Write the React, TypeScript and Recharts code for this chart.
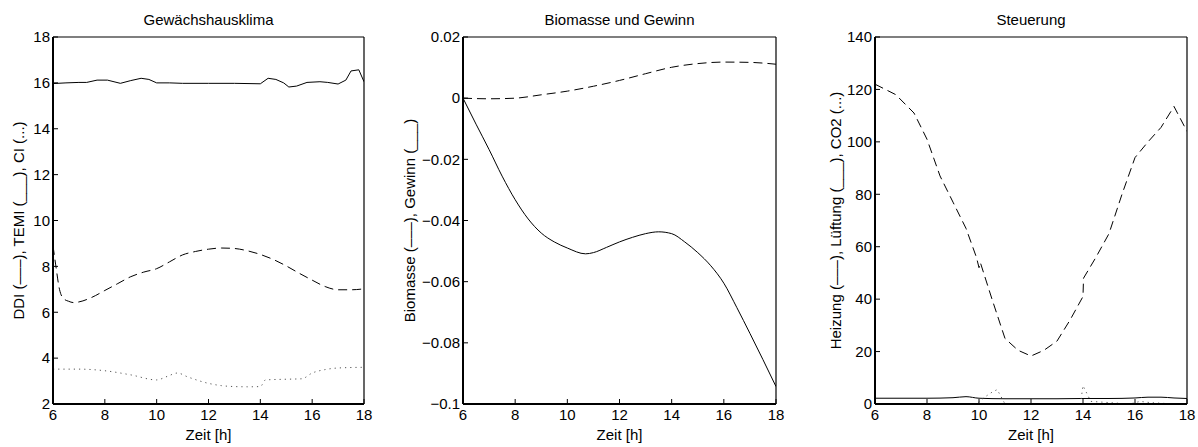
import React from "react";
import { LineChart, Line, XAxis, YAxis } from "recharts";

// shared x axis (hours)
const hourTicks = [6, 8, 10, 12, 14, 16, 18];

// Panel 1: Gewächshausklima
const temiT = [6, 6.5, 7, 7.3, 7.7, 8.1, 8.6, 9.0, 9.4, 9.7, 10, 10.5, 11, 12, 13, 14, 14.3, 14.6, 14.9, 15.1, 15.4, 15.8, 16.3, 16.6, 17, 17.3, 17.5, 17.8, 18];
const temiV = [15.97, 16.0, 16.02, 16.02, 16.12, 16.12, 15.98, 16.1, 16.2, 16.15, 16.0, 16.0, 15.98, 15.98, 15.98, 15.96, 16.2, 16.15, 16.0, 15.82, 15.86, 16.02, 16.05, 16.02, 15.95, 16.12, 16.52, 16.57, 16.05];
const ddiT = [6, 6.1, 6.25, 6.4, 6.6, 6.8, 7, 7.5, 8, 8.5, 9, 9.5, 10, 10.5, 11, 11.5, 12, 12.5, 13, 13.5, 14, 14.5, 15, 15.5, 16, 16.5, 17, 17.5, 18];
const ddiV = [8.9, 8.1, 7.0, 6.6, 6.48, 6.42, 6.45, 6.65, 6.95, 7.25, 7.55, 7.75, 7.9, 8.2, 8.5, 8.65, 8.75, 8.8, 8.78, 8.68, 8.52, 8.3, 8.02, 7.7, 7.4, 7.12, 6.98, 6.98, 7.02];
const ciT = [6, 7, 8, 9, 10, 10.4, 10.8, 11.2, 12, 12.5, 13, 13.5, 14, 14.2, 15, 15.6, 16, 16.5, 17, 18];
const ciV = [3.52, 3.52, 3.45, 3.27, 3.05, 3.2, 3.35, 3.18, 2.9, 2.8, 2.76, 2.75, 2.76, 3.05, 3.08, 3.1, 3.35, 3.5, 3.57, 3.6];
const climaTicks = [2, 4, 6, 8, 10, 12, 14, 16, 18];

// Panel 2: Biomasse und Gewinn
const gewinnT = [6, 6.5, 7, 7.5, 8, 8.5, 9, 9.5, 10, 10.7, 11, 11.5, 12, 12.5, 13, 13.5, 14, 14.5, 15, 15.5, 16, 16.5, 17, 17.5, 18];
const gewinnV = [0, -0.0085, -0.0168, -0.0255, -0.0332, -0.0395, -0.0441, -0.047, -0.049, -0.0509, -0.0505, -0.0488, -0.047, -0.0455, -0.0443, -0.0437, -0.0443, -0.047, -0.0505, -0.0548, -0.0605, -0.0685, -0.0769, -0.0855, -0.0943];
const biomasseT = [6, 7, 8, 9, 10, 11, 12, 13, 14, 15, 16, 17, 18];
const biomasseV = [0, -0.0002, 0, 0.0011, 0.0023, 0.0039, 0.0058, 0.008, 0.0101, 0.0113, 0.0118, 0.0117, 0.0111];
const bioTicks = [-0.1, -0.08, -0.06, -0.04, -0.02, 0, 0.02];

// Panel 3: Steuerung
const heizT = [6, 6.8, 7.5, 8, 8.5, 9, 9.5, 9.9, 10, 10.05, 10.5, 11, 11.5, 12, 12.5, 13, 13.5, 14, 14.02, 14.5, 15, 15.5, 16, 16.5, 17, 17.5, 18];
const heizV = [122, 118, 111, 101, 87, 77, 67, 56, 52, 54, 40, 25, 20.5, 18.3, 20.5, 24, 32, 41, 48, 56, 65, 80, 94, 100, 105.5, 113.5, 104];
const lueftT = [6, 8, 9, 9.5, 10, 11, 12, 13, 14, 15, 16, 16.5, 17, 17.5, 18];
const lueftV = [2.2, 2.2, 2.4, 2.8, 2.2, 2.0, 2.0, 2.0, 2.1, 2.1, 2.3, 2.6, 2.6, 2.3, 2.1];
const co2T = [6, 9.9, 10.2, 10.5, 10.7, 11, 13.9, 14, 14.1, 14.3, 15.8, 16.2, 16.6, 17, 17.5, 18];
const co2V = [0, 0, 2.5, 4.5, 5.5, 0, 0, 7, 5, 1, 0, 1, 0.5, 0.3, 0, 0];
const steuerTicks = [0, 20, 40, 60, 80, 100, 120, 140];

const FONT = "'Liberation Sans', Arial, Helvetica, sans-serif";
const H = 447;
const TOP = 37;
const BOTTOM = 43;

const pts = (t: number[], v: number[]) => t.map((x, i) => ({ t: x, v: v[i] }));

type Series = { data: { t: number; v: number }[]; style: "solid" | "dashed" | "dotted"; curve: "linear" | "monotone" };

const styleOf = (s: Series["style"]) =>
  s === "dashed"
    ? { stroke: "#000", strokeDasharray: "9 5" }
    : s === "dotted"
    ? { stroke: "#555", strokeDasharray: "1.2 4" }
    : { stroke: "#000" };

const fmtMinus = (v: number) => (v === 0 ? "0" : (v < 0 ? "\u2212" : "") + String(Math.abs(v)));

function Panel(props: {
  x: number; width: number; left: number; right: number; title: string; yLabel: string;
  yLabelX: number; yDomain: [number, number]; yTicks: number[]; series: Series[]; fmt?: (v: number) => string;
}) {
  const { x, width, left, right, title, yLabel, yLabelX, yDomain, yTicks, series, fmt } = props;
  const plotW = width - left - right;
  const plotH = H - TOP - BOTTOM;
  const cx = left + plotW / 2;
  const cy = TOP + plotH / 2;
  const tickFont = { fontSize: 15, fill: "#000", fontFamily: FONT };
  // axes are 1px thick so that they still render; margins make up the difference
  return (
    <div style={{ position: "absolute", left: x, top: 0 }}>
      <LineChart width={width} height={H} margin={{ top: TOP - 1, right: right - 1, bottom: BOTTOM - 1, left: left - 1 }} style={{ fontFamily: FONT }}>
        <XAxis
          dataKey="t" type="number" domain={[6, 18]} ticks={hourTicks} interval={0} allowDataOverflow
          height={1} tickSize={-5} tickMargin={10} stroke="#000" axisLine={{ stroke: "#000", strokeWidth: 2 }}
          tickLine={{ stroke: "#000" }} tick={tickFont}
          label={() => (
            <text x={cx} y={H - 7} textAnchor="middle" fontSize={15} fontFamily={FONT} fill="#000">Zeit [h]</text>
          )}
        />
        <XAxis
          xAxisId="top" orientation="top" dataKey="t" type="number" domain={[6, 18]} ticks={hourTicks} interval={0}
          allowDataOverflow height={1} tickSize={-5} tick={false} axisLine={{ stroke: "#000", strokeWidth: 1.2 }}
          tickLine={{ stroke: "#000" }}
          label={() => (
            <text x={cx} y={25} textAnchor="middle" fontSize={15} fontFamily={FONT} fill="#000">{title}</text>
          )}
        />
        <YAxis
          type="number" domain={yDomain} ticks={yTicks} interval={0} allowDataOverflow width={1}
          tickSize={-5} tickMargin={8} axisLine={{ stroke: "#000", strokeWidth: 2 }} tickLine={{ stroke: "#000" }}
          tick={tickFont} tickFormatter={fmt}
          label={() => (
            <text x={yLabelX} y={cy} transform={`rotate(-90 ${yLabelX} ${cy})`} textAnchor="middle"
              dominantBaseline="central" fontSize={15} fontFamily={FONT} fill="#000">{yLabel}</text>
          )}
        />
        <YAxis
          yAxisId="right" orientation="right" type="number" domain={yDomain} ticks={yTicks} interval={0}
          allowDataOverflow width={1} tickSize={-5} tick={false} axisLine={{ stroke: "#000", strokeWidth: 1.2 }}
          tickLine={{ stroke: "#000" }}
        />
        {series.map((s, i) => (
          <Line key={i} data={s.data} dataKey="v" type={s.curve} dot={false} activeDot={false}
            strokeWidth={1} isAnimationActive={false} {...styleOf(s.style)} />
        ))}
      </LineChart>
    </div>
  );
}

export default function App() {
  return (
    <div style={{ position: "absolute", left: 0, top: 0, width: 1198, height: H, background: "#fff" }}>
      <Panel
        x={0} width={400} left={53} right={36} title="Gewächshausklima"
        yLabel="DDI (–––), TEMI (___), CI (...)" yLabelX={18} yDomain={[2, 18]} yTicks={climaTicks}
        series={[
          { data: pts(temiT, temiV), style: "solid", curve: "linear" },
          { data: pts(ddiT, ddiV), style: "dashed", curve: "monotone" },
          { data: pts(ciT, ciV), style: "dotted", curve: "monotone" },
        ]}
      />
      <Panel
        x={400} width={400} left={63} right={24} title="Biomasse und Gewinn"
        yLabel="Biomasse (–––), Gewinn (___)" yLabelX={9} yDomain={[-0.1, 0.02]} yTicks={bioTicks} fmt={fmtMinus}
        series={[
          { data: pts(gewinnT, gewinnV), style: "solid", curve: "monotone" },
          { data: pts(biomasseT, biomasseV), style: "dashed", curve: "monotone" },
        ]}
      />
      <Panel
        x={800} width={398} left={75} right={11} title="Steuerung"
        yLabel="Heizung (–––), Lüftung (___), CO2 (...)" yLabelX={35} yDomain={[0, 140]} yTicks={steuerTicks}
        series={[
          { data: pts(heizT, heizV), style: "dashed", curve: "linear" },
          { data: pts(lueftT, lueftV), style: "solid", curve: "monotone" },
          { data: pts(co2T, co2V), style: "dotted", curve: "linear" },
        ]}
      />
    </div>
  );
}
